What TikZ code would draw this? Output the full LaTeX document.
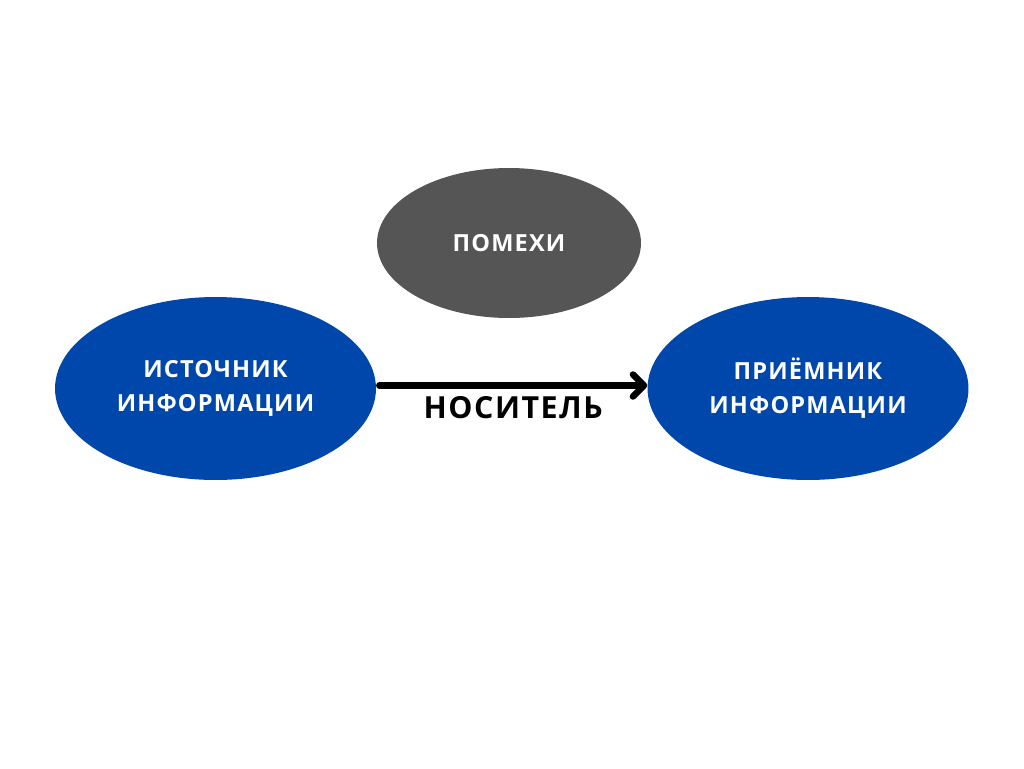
\documentclass[tikz,border=0pt]{standalone}
\usepackage{fontspec}
\setmainfont{Open Sans}[LetterSpace=5]
\usepackage{xcolor}
\usepackage{tikz}
\usetikzlibrary{shapes.geometric, arrows.meta, positioning}

\definecolor{srcblue}{HTML}{0047AB}
\definecolor{noisegray}{HTML}{555555}

\begin{document}
\begin{tikzpicture}[
  x=0.02cm, y=-0.02cm,
  blob/.style={ellipse, draw=none, align=center, inner sep=0pt,
              font=\fontsize{13.4}{19.5}\selectfont\bfseries, text=white},
  endbox/.style={blob, fill=srcblue, minimum width=6.42cm, minimum height=3.66cm},
  noisebox/.style={blob, fill=noisegray, minimum width=5.28cm, minimum height=3.0cm},
  arrow/.style={-{Straight Barb[length=2.2mm, width=4.4mm, round]}, line width=1.3mm, line cap=round, color=black}
]
\useasboundingbox (0,0) rectangle (1024,768);

\node[endbox] (src) at (215.5,388.5) {ИСТОЧНИК\\ИНФОРМАЦИИ};
\node[endbox] (dst) at (808,388.5) {ПРИЁМНИК\\ИНФОРМАЦИИ};
\node[noisebox] (noise) at (509,243) {ПОМЕХИ};

\draw[arrow] ([xshift=0.06cm, yshift=0.06cm]src.east) -- ([yshift=0.06cm]dst.west)
  node[midway, below=1pt, font=\fontsize{17.3}{20}\selectfont\bfseries] (carrier) {НОСИТЕЛЬ};

\end{tikzpicture}
\end{document}
